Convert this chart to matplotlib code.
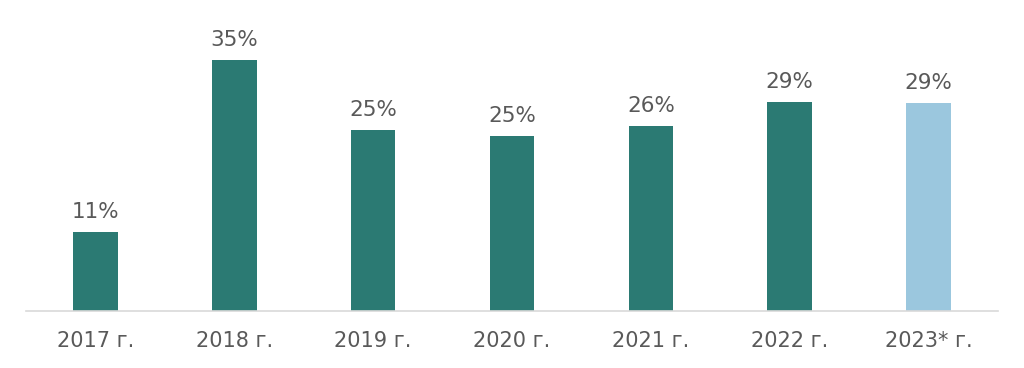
import matplotlib.pyplot as plt

plt.rcParams['font.family'] = ['DejaVu Sans']

years = ['2017 г.', '2018 г.', '2019 г.', '2020 г.', '2021 г.', '2022 г.', '2023* г.']
values = [11.0, 35.0, 25.2, 24.4, 25.8, 29.1, 29.0]
labels = ['11%', '35%', '25%', '25%', '26%', '29%', '29%']
colors = ['#2B7A73'] * 6 + ['#9BC7DE']

fig = plt.figure(figsize=(10.24, 3.68), dpi=100)
ax = fig.add_axes([26 / 1024, 57 / 368, 972 / 1024, (311 - 24.2) / 368])

x = range(len(years))
bars = ax.bar(x, values, width=0.32, color=colors)
for b, lab in zip(bars, labels):
    ax.annotate(lab, (b.get_x() + b.get_width() / 2, b.get_height()),
                xytext=(0, 7.5), textcoords='offset points',
                ha='center', va='bottom', fontsize=15.5, color='#595959')

ax.set_xlim(-0.5, 6.5)
ax.set_ylim(0, 40)
ax.set_xticks(list(x))
ax.set_xticklabels(years, fontsize=15, color='#595959')
ax.tick_params(axis='x', length=0, pad=14.5)
ax.set_yticks([])
for s in ['top', 'right', 'left']:
    ax.spines[s].set_visible(False)
ax.spines['bottom'].set_color('#D9D9D9')
ax.spines['bottom'].set_linewidth(1.2)

fig.savefig('out.png', dpi=100)
